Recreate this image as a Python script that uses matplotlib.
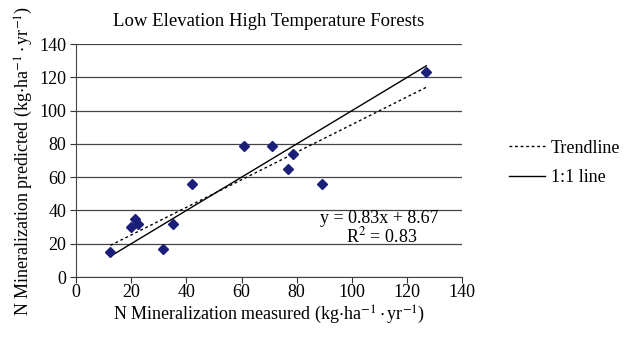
import numpy as np
import matplotlib
matplotlib.use('Agg')
from matplotlib import pyplot as plt

plt.rcParams['font.family'] = 'Liberation Serif'
plt.rcParams['mathtext.fontset'] = 'stix'

# data
measured = [12.5, 20, 21.5, 22.5, 31.5, 35, 42, 61, 71, 77, 78.5, 89, 127]
predicted = [15, 30, 35, 32, 17, 32, 56, 79, 79, 65, 74, 56, 123]
slope = 0.83
intercept = 8.67
r2 = 0.83

fs = 13

fig = plt.figure(figsize=(6.26, 3.37), dpi=100)
ax = fig.add_axes([0.1214, 0.178, 0.617, 0.691])

x_line = np.array([min(measured), max(measured)])
ax.plot(x_line, slope * x_line + intercept, color='black', lw=1.0,
        ls=(0, (2, 2)), label='Trendline', zorder=3)
ax.plot(x_line, x_line, color='black', lw=1.0, label='1:1 line', zorder=3)
ax.plot(measured, predicted, ls='none', marker='D', ms=5.5,
        color='#1c1f7a', zorder=4)

ax.set_xlim(0, 140)
ax.set_ylim(0, 140)
ax.set_xticks(np.arange(0, 141, 20))
ax.set_yticks(np.arange(0, 141, 20))
ax.tick_params(labelsize=fs, direction='out', length=4, width=0.8, colors='#333333',
               labelcolor='black', pad=3)
ax.tick_params(axis='x', pad=1)
ax.yaxis.grid(True, color='#444444', lw=0.9)
ax.set_axisbelow(True)
for s in ['top', 'right']:
    ax.spines[s].set_visible(False)
for s in ['left', 'bottom']:
    ax.spines[s].set_color('#444444')

ax.set_xlabel(r'N Mineralization measured (kg$\cdot$ha$^{-1}\cdot$yr$^{-1}$)', fontsize=fs,
              labelpad=2)
ax.set_ylabel(r'N Mineralization predicted (kg$\cdot$ha$^{-1}\cdot$yr$^{-1}$)', fontsize=fs,
              labelpad=3)
ax.set_title('Low Elevation High Temperature Forests', fontsize=13.5, pad=13)

ax.text(88.5, 35, 'y = %.2fx + %.2f' % (slope, intercept), fontsize=fs, va='center')
ax.text(98, 24.5, r'R$^2$ = %.2f' % r2, fontsize=fs, va='center')

ax.legend(loc='center left', bbox_to_anchor=(1.08, 0.49), frameon=False,
          fontsize=fs, handlelength=2.0, handletextpad=0.3, labelspacing=0.7)

fig.savefig('out.png', dpi=100)
